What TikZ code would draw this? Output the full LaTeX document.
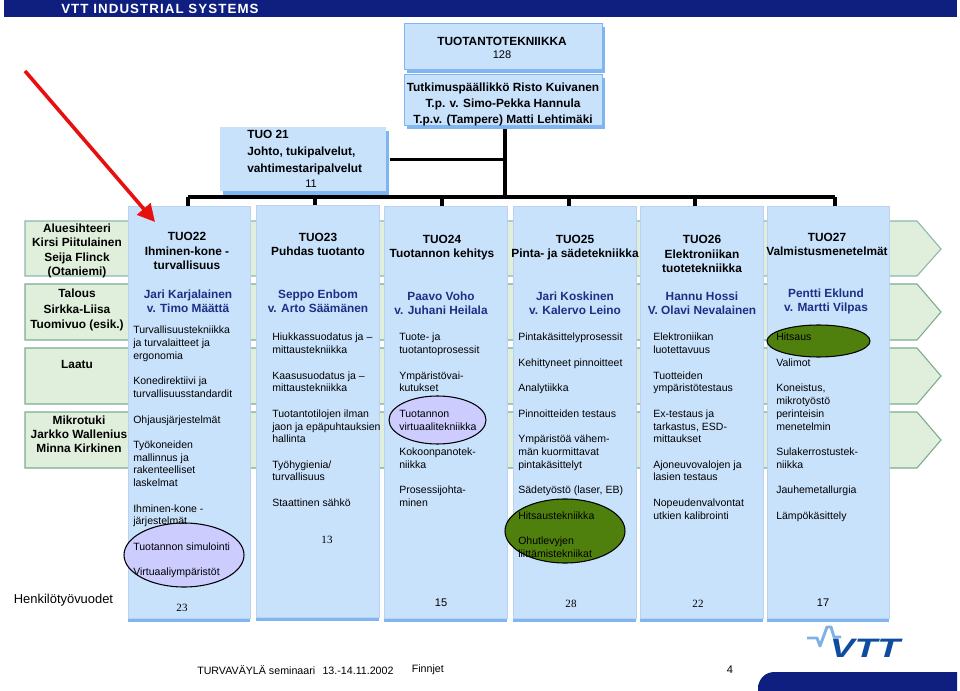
\documentclass[tikz,border=0pt]{standalone}
\usepackage{fontspec}
\setmainfont{Liberation Sans}
\newfontfamily\timesfont{Liberation Serif}
\newfontfamily\bannerfont[LetterSpace=8]{Liberation Sans}
\usetikzlibrary{arrows.meta,shapes.geometric,shadows}
\definecolor{boxblue}{HTML}{C9E2FC}
\definecolor{stripblue}{HTML}{7FB6F2}
\definecolor{edgeblue}{HTML}{BCD0F0}
\definecolor{rowgreen}{HTML}{E0EFDB}
\definecolor{rowedge}{HTML}{79AD90}
\definecolor{namenavy}{HTML}{1B3085}
\definecolor{bannernavy}{HTML}{0F1F80}
\definecolor{ovallilac}{HTML}{CCCCFF}
\definecolor{ovalgreen}{HTML}{4F7F0C}
\definecolor{vttblue}{HTML}{0D4CA1}
\definecolor{vttpulse}{HTML}{7FB2E2}
\definecolor{arrowred}{HTML}{E8100F}
\tikzset{
  bighead/.style={font=\bfseries\fontsize{8.9}{10.6}\selectfont, align=center, inner sep=0pt},
  bodytext/.style={font=\fontsize{7.9}{9.55}\selectfont, align=left, anchor=north west, inner sep=0pt},
  namestyle/.style={bighead, text=namenavy},
  columnbox/.style={fill=boxblue, draw=edgeblue, line width=0.6pt, inner sep=0pt, anchor=north west, minimum width=#1*0.75pt,
    minimum height=412*0.75pt, general shadow={fill=stripblue, shadow yshift=-3pt}},
  topbox/.style={fill=boxblue, draw=stripblue, line width=0.6pt, inner sep=0pt, anchor=north west, minimum width=198*0.75pt,
    general shadow={fill=stripblue, shadow xshift=2pt, shadow yshift=-2.5pt}},
  rowbox/.style={draw=rowedge, fill=rowgreen, line width=0.8pt},
  orgline/.style={black, line width=2.3pt},
  oval/.style={ellipse, draw=black, line width=0.8pt, inner sep=0pt, minimum width=#1*0.75pt},
  numserif/.style={font=\timesfont\fontsize{8.3}{10}\selectfont, inner sep=0pt},
  numsans/.style={font=\fontsize{8.3}{10}\selectfont, inner sep=0pt},
  footertext/.style={font=\fontsize{8}{10}\selectfont, inner sep=0pt, anchor=west},
}
\begin{document}
\begin{tikzpicture}[x=0.75pt,y=-0.75pt]
\useasboundingbox (0,0) rectangle (960,691);

% banner
\node[fill=bannernavy, minimum width=953*0.75pt, minimum height=17*0.75pt, inner sep=0pt, anchor=north west] (banner) at (4,0) {};
\node[text=white, font=\bannerfont\bfseries\fontsize{10}{11}\selectfont, anchor=west, inner sep=0pt] (bannertext) at (61,8.5) {VTT INDUSTRIAL SYSTEMS};

% green rows
\draw[rowbox, draw=rowedge!70!edgeblue] (25,221) -- (917,221) -- (941,249) -- (917,276) -- (25,276) -- cycle;
\draw[rowbox] (25,284) -- (917,284) -- (941,312) -- (917,340) -- (25,340) -- cycle;
\draw[rowbox] (25,348) -- (917,348) -- (941,376) -- (917,404) -- (25,404) -- cycle;
\draw[rowbox] (25,412) -- (917,412) -- (941,440) -- (917,468) -- (25,468) -- cycle;

% left row labels
\node[bighead] (rowone) at (77,251) {Aluesihteeri\\Kirsi Piitulainen\\Seija Flinck\\(Otaniemi)};
\node[bighead, font=\bfseries\fontsize{8.9}{11.6}\selectfont] (rowtwo) at (77,310) {Talous\\Sirkka-Liisa\\Tuomivuo (esik.)};
\node[bighead] (rowthree) at (77,364) {Laatu};
\node[bighead] (rowfour) at (79,434) {Mikrotuki\\Jarkko Wallenius\\Minna Kirkinen};

% columns
\node[columnbox=122] (tuo22) at (128,206) {};
\node[columnbox=123] (tuo23) at (256,205) {};
\node[columnbox=123] (tuo24) at (384,206) {};
\node[columnbox=123] (tuo25) at (513,206) {};
\node[columnbox=123] (tuo26) at (640,206) {};
\node[columnbox=122] (tuo27) at (767,206) {};

% top boxes
\node[topbox, minimum height=46*0.75pt] (head) at (404,23.5) {};
\node[topbox, minimum height=51*0.75pt] (sub) at (404,74) {};
\node[fill=boxblue, inner sep=0pt, anchor=north west, minimum width=166*0.75pt, minimum height=64*0.75pt,
  general shadow={fill=stripblue, shadow xshift=2pt, shadow yshift=-2.5pt}] (tuo21) at (220,127) {};

\node[bighead] (headtext) at (502,41) {TUOTANTOTEKNIIKKA};
\node[numsans] (headnum) at (502,55) {128};
\node[bighead, font=\bfseries\fontsize{8.9}{12}\selectfont] (subtext) at (503,104.5) {Tutkimuspäällikkö Risto Kuivanen\\T.p. v. Simo-Pekka Hannula\\T.p.v. (Tampere) Matti Lehtimäki};
\node[bighead, align=left, anchor=west, font=\bfseries\fontsize{8.9}{13}\selectfont] (tuo21text) at (247,152.5) {TUO 21\\Johto, tukipalvelut,\\vahtimestaripalvelut};
\node[numsans] (tuo21num) at (311,184) {11};

% connectors
\coordinate (trunk) at (505,197);
\coordinate (busleft) at (188,197);
\coordinate (busright) at (835,197);
\coordinate (drop23) at (315,197);
\coordinate (drop24) at (442,197);
\coordinate (drop25) at (569,197);
\coordinate (drop26) at (695,197);
\draw[orgline] (trunk |- sub.south) ++(0,3) -- (trunk);
\draw[orgline] (tuo21.east) ++(3,0) -- (tuo21.east -| trunk);
\draw[orgline] (busleft) -- (busright);
\draw[orgline] (busleft) -- (busleft |- tuo22.north);
\draw[orgline] (drop23) -- (drop23 |- tuo23.north);
\draw[orgline] (drop24) -- (drop24 |- tuo24.north);
\draw[orgline] (drop25) -- (drop25 |- tuo25.north);
\draw[orgline] (drop26) -- (drop26 |- tuo26.north);
\draw[orgline] (busright) -- (busright |- tuo27.north);

% ovals
\node[oval=120, fill=ovallilac, minimum height=64*0.75pt] (simoval) at (184,555) {};
\node[oval=97, fill=ovallilac, minimum height=48*0.75pt] (virtoval) at (437.5,420) {};
\node[oval=120, fill=ovalgreen, minimum height=64*0.75pt] (weldoval) at (565,531) {};
\node[oval=103, fill=ovalgreen, minimum height=32*0.75pt] (castoval) at (818.5,341) {};

% column headings
\node[bighead] (head22) at (187,251) {TUO22\\Ihminen-kone -\\turvallisuus};
\node[bighead] (head23) at (318,244) {TUO23\\Puhdas tuotanto};
\node[bighead] (head24) at (442,247.5) {TUO24\\Tuotannon kehitys};
\node[bighead] (head25) at (575,247.5) {TUO25\\Pinta- ja sädetekniikka};
\node[bighead] (head26) at (702,254) {TUO26\\Elektroniikan\\tuotetekniikka};
\node[bighead] (head27) at (827,244) {TUO27\\Valmistusmenetelmät};

% responsible persons
\node[namestyle] (name22) at (188,301.5) {Jari Karjalainen\\v. Timo Määttä};
\node[namestyle] (name23) at (318,301) {Seppo Enbom\\v. Arto Säämänen};
\node[namestyle] (name24) at (441,303) {Paavo Voho\\v. Juhani Heilala};
\node[namestyle] (name25) at (575,303.5) {Jari Koskinen\\v. Kalervo Leino};
\node[namestyle] (name26) at (702,303.5) {Hannu Hossi\\V. Olavi Nevalainen};
\node[namestyle] (name27) at (826,301.5) {Pentti Eklund\\v. Martti Vilpas};

% topics
\node[bodytext] (list22) at (133,326) {Turvallisuustekniikka\\ja turvalaitteet ja\\ergonomia\\[9.55pt]Konedirektiivi ja\\turvallisuusstandardit\\[9.55pt]Ohjausjärjestelmät\\[9.55pt]Työkoneiden\\mallinnus ja\\rakenteelliset\\laskelmat\\[9.55pt]Ihminen-kone -\\järjestelmät\\[9.55pt]Tuotannon simulointi\\[9.55pt]Virtuaaliympäristöt};
\node[bodytext] (list23) at (272,333) {Hiukkassuodatus ja --\\mittaustekniikka\\[9.55pt]Kaasusuodatus ja --\\mittaustekniikka\\[9.55pt]Tuotantotilojen ilman\\jaon ja epäpuhtauksien\\hallinta\\[9.55pt]Työhygienia/\\turvallisuus\\[9.55pt]Staattinen sähkö};
\node[bodytext] (list24) at (399,333) {Tuote- ja\\tuotantoprosessit\\[9.55pt]Ympäristövai-\\kutukset\\[9.55pt]Tuotannon\\virtuaalitekniikka\\[9.55pt]Kokoonpanotek-\\niikka\\[9.55pt]Prosessijohta-\\minen};
\node[bodytext] (list25) at (518,333) {Pintakäsittelyprosessit\\[9.55pt]Kehittyneet pinnoitteet\\[9.55pt]Analytiikka\\[9.55pt]Pinnoitteiden testaus\\[9.55pt]Ympäristöä vähem-\\män kuormittavat\\pintakäsittelyt\\[9.55pt]Sädetyöstö (laser, EB)\\[9.55pt]Hitsaustekniikka\\[9.55pt]Ohutlevyjen\\liittämistekniikat};
\node[bodytext] (list26) at (653,333) {Elektroniikan\\luotettavuus\\[9.55pt]Tuotteiden\\ympäristötestaus\\[9.55pt]Ex-testaus ja\\tarkastus, ESD-\\mittaukset\\[9.55pt]Ajoneuvovalojen ja\\lasien testaus\\[9.55pt]Nopeudenvalvontat\\utkien kalibrointi};
\node[bodytext] (list27) at (776,333) {Hitsaus\\[9.55pt]Valimot\\[9.55pt]Koneistus,\\mikrotyöstö\\perinteisin\\menetelmin\\[9.55pt]Sulakerrostustek-\\niikka\\[9.55pt]Jauhemetallurgia\\[9.55pt]Lämpökäsittely};

% person-years
\node[font=\fontsize{9.7}{11}\selectfont, inner sep=0pt] (yearslabel) at (63.5,600) {Henkilötyövuodet};
\node[numserif] (years22) at (182,608) {23};
\node[numserif] (years23) at (327,540) {13};
\node[numsans] (years24) at (441,603) {15};
\node[numserif] (years25) at (571,604) {28};
\node[numserif] (years26) at (698,604) {22};
\node[numsans] (years27) at (823,603) {17};

% red arrow
\coordinate (arrowstart) at (25,71);
\coordinate (arrowtip) at (155,222);
\draw[-{Triangle[length=13pt,width=13pt]}, arrowred, line width=2.7pt] (arrowstart) -- (arrowtip);

% footer
\node[footertext] (seminar) at (197,670) {TURVAVÄYLÄ seminaari\hspace{5.5pt}13.-14.11.2002};
\node[footertext] (finnjet) at (411.5,670) {Finnjet};
\node[numsans] (pagenum) at (730,670) {4};

% corner and logo
\fill[bannernavy] (758,691) -- (758,686) .. controls (760,678) and (765,672) .. (775,672) -- (957,672) -- (957,691) -- cycle;
\draw[vttpulse, line width=2.2pt, line join=round] (807,638) -- (817,638) -- (820,646) -- (827,627) -- (831,627) -- (834,637) -- (841,637);
\node[font=\bfseries\itshape\fontsize{20}{22}\selectfont, text=vttblue, inner sep=0pt, xscale=1.4] (vttlogo) at (865,648.5) {VTT};
\end{tikzpicture}
\end{document}
